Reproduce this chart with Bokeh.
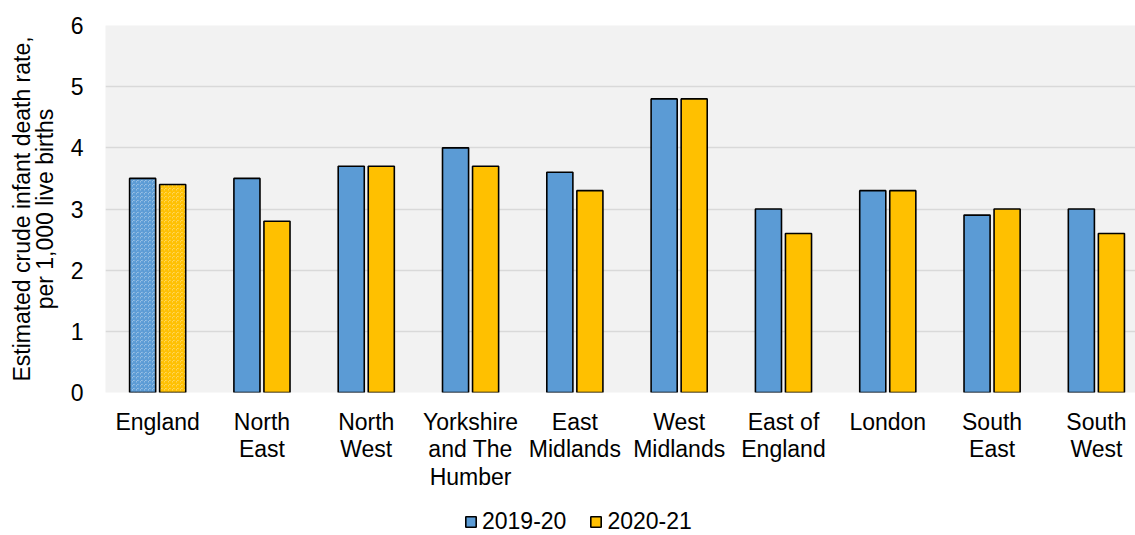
from bokeh.plotting import figure
from bokeh.layouts import column
from bokeh.models import (ColumnDataSource, Range1d, FixedTicker, Legend,
                          LegendItem, CDSView, IndexFilter)
from bokeh.transform import dodge
from bokeh.embed import file_html
from bokeh.resources import INLINE

# Crude infant death rate per 1,000 live births, by region
regions = ["England", "North East", "North West", "Yorkshire and The Humber",
           "East Midlands", "West Midlands", "East of England", "London",
           "South East", "South West"]
tick_labels = ["England", "North\nEast", "North\nWest", "Yorkshire\nand The\nHumber",
               "East\nMidlands", "West\nMidlands", "East of\nEngland", "London",
               "South\nEast", "South\nWest"]
rate_2019_20 = [3.5, 3.5, 3.7, 4.0, 3.6, 4.8, 3.0, 3.3, 2.9, 3.0]
rate_2020_21 = [3.4, 2.8, 3.7, 3.7, 3.3, 4.8, 2.6, 3.3, 3.0, 2.6]
series_labels = ["2019-20", "2020-21"]

BLUE = "#5B9BD5"
GOLD = "#FFC000"
FONT = "Liberation Sans"
FS = "23px"

source = ColumnDataSource(dict(
    x=list(range(len(regions))),
    region=regions,
    r1=rate_2019_20,
    r2=rate_2020_21,
))

p = figure(width=1135, height=497, output_backend="svg", toolbar_location=None,
           x_range=Range1d(-0.5, 9.375), y_range=Range1d(0, 6),
           min_border_left=105, min_border_right=0, min_border_top=25,
           min_border_bottom=105, background_fill_color="#F2F2F2",
           border_fill_color="white", outline_line_color=None)

england = CDSView(filter=IndexFilter([0]))
others = CDSView(filter=IndexFilter(list(range(1, len(regions)))))

bar_w = 0.25
off = 0.144

# England totals drawn with a fine pattern fill
p.vbar(x=dodge("x", -off, range=p.x_range), top="r1", width=bar_w, bottom=0,
       source=source, view=england, fill_color="#C9DEF2", line_color="black",
       line_width=1.6, hatch_pattern="criss_cross", hatch_color=BLUE,
       hatch_scale=4, hatch_weight=1.3)
p.vbar(x=dodge("x", off, range=p.x_range), top="r2", width=bar_w, bottom=0,
       source=source, view=england, fill_color="#FFE9A6", line_color="black",
       line_width=1.6, hatch_pattern="criss_cross", hatch_color=GOLD,
       hatch_scale=4, hatch_weight=1.3)

b1 = p.vbar(x=dodge("x", -off, range=p.x_range), top="r1", width=bar_w, bottom=0,
            source=source, view=others, fill_color=BLUE, line_color="black",
            line_width=1.6)
b2 = p.vbar(x=dodge("x", off, range=p.x_range), top="r2", width=bar_w, bottom=0,
            source=source, view=others, fill_color=GOLD, line_color="black",
            line_width=1.6)

# axes
p.xaxis.ticker = FixedTicker(ticks=list(range(len(regions))))
p.xaxis.major_label_overrides = {i: t for i, t in enumerate(tick_labels)}
p.yaxis.ticker = FixedTicker(ticks=[0, 1, 2, 3, 4, 5, 6])

for ax in (p.xaxis, p.yaxis):
    ax.axis_line_color = None
    ax.major_tick_line_color = None
    ax.minor_tick_line_color = None
    ax.major_label_text_font = FONT
    ax.major_label_text_font_size = FS
    ax.major_label_text_color = "black"

p.xaxis.major_label_standoff = 10
p.xaxis.major_label_text_line_height = 1.06
p.yaxis.major_label_standoff = 16

p.yaxis.axis_label = "Estimated crude infant death rate,\nper 1,000 live births"
p.yaxis.axis_label_text_font = FONT
p.yaxis.axis_label_text_font_size = FS
p.yaxis.axis_label_text_font_style = "normal"
p.yaxis.axis_label_text_color = "black"
p.yaxis.axis_label_text_line_height = 0.88
p.yaxis.axis_label_standoff = 10

p.xgrid.grid_line_color = None
p.ygrid.grid_line_color = "#D9D9D9"
p.ygrid.grid_line_width = 1.5

# legend strip underneath the chart; its key glyphs mirror the bar styles
lg = figure(width=1135, height=38, output_backend="svg", toolbar_location=None,
            x_range=Range1d(0, 1), y_range=Range1d(0, 1),
            x_axis_location=None, y_axis_location=None, min_border=0,
            outline_line_color=None, background_fill_color="white",
            border_fill_color="white")
lg.xgrid.grid_line_color = None
lg.ygrid.grid_line_color = None
k1 = lg.vbar(x=[0.5], top=[1], width=0.1, fill_color=BLUE, line_color="black",
             line_width=1.6, visible=False)
k2 = lg.vbar(x=[0.5], top=[1], width=0.1, fill_color=GOLD, line_color="black",
             line_width=1.6, visible=False)
legend = Legend(items=[LegendItem(label=series_labels[0], renderers=[k1]),
                       LegendItem(label=series_labels[1], renderers=[k2])],
                orientation="horizontal", location=(359, 0),
                glyph_width=13, glyph_height=13, label_standoff=5, spacing=23,
                padding=0, margin=0, border_line_color=None,
                background_fill_alpha=0, inactive_fill_alpha=0,
                label_text_font=FONT, label_text_font_size=FS,
                label_text_color="black")
lg.add_layout(legend, "center")

layout = column(p, lg, spacing=0)
open("out.html", "w").write(file_html(layout, INLINE))
